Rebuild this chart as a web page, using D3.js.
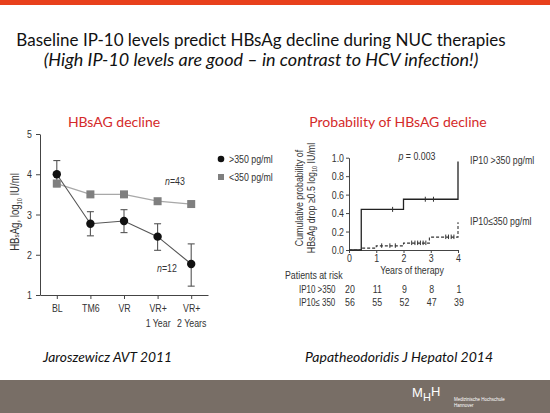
<!DOCTYPE html>
<html><head><meta charset="utf-8">
<script src="https://cdn.jsdelivr.net/npm/d3@7"></script>
<style>
html,body{margin:0;padding:0;background:#fff;}
svg{display:block;}
.chart text{font-family:"Liberation Sans",Arial,sans-serif;fill:#333;}
</style></head>
<body>
<svg id="s" width="550" height="413"></svg>
<script>
// ---------- data ----------
const categories = ["BL", "TM6", "VR", "VR+", "VR+"];
const categorySub = ["", "", "", "1 Year", "2 Years"];
const highIP10 = [4.0, 2.77, 2.84, 2.45, 1.77];
const highLower = [3.69, 2.47, 2.55, 2.11, 1.22];
const highUpper = [4.34, 3.07, 3.12, 2.77, 2.27];
const lowIP10 = [3.77, 3.5, 3.5, 3.33, 3.26];
const leftYTicks = [1, 2, 3, 4, 5];
const legendLabels = [">350 pg/ml", "<350 pg/ml"];

const kmYears = [0, 1, 2, 3, 4];
const kmProbTicks = [0, 0.2, 0.4, 0.6, 0.8, 1.0];
const kmHighTimes = [0, 0.45, 2, 4];
const kmHighProb = [0, 0.44, 0.55, 0.96];
const kmHighCensorTimes = [1.6, 2.8, 3.1];
const kmHighCensorProb = [0.44, 0.55, 0.55];
const kmLowTimes = [0, 0.45, 1, 2, 2.95, 4];
const kmLowProb = [0, 0.02, 0.045, 0.075, 0.14, 0.30];
const kmLowCensorTimes = [1.2, 1.5, 1.7, 2.3, 2.42, 2.52, 2.62, 2.72, 2.82, 3.55, 3.65, 3.75, 3.85];
const kmLowCensorProb = [0.045, 0.045, 0.045, 0.075, 0.075, 0.075, 0.075, 0.075, 0.075, 0.14, 0.14, 0.14, 0.14];
const riskLabels = ["IP10 >350", "IP10\u2264 350"];
const riskHigh = [20, 11, 9, 8, 1];
const riskLow = [56, 55, 52, 47, 39];

// ---------- page ----------
const svg = d3.select("#s");
svg.append("rect").attr("x",0).attr("y",0).attr("width",550).attr("height",5).attr("fill","#e8401c");
svg.append("text").attr("x",261).attr("y",46).attr("text-anchor","middle")
  .style("font-family","Lato, 'Open Sans', sans-serif").style("font-size","17px").attr("fill","#111")
  .text("Baseline IP-10 levels predict HBsAg decline during NUC therapies");
svg.append("text").attr("x",261).attr("y",66).attr("text-anchor","middle")
  .style("font-family","Lato, 'Open Sans', sans-serif").style("font-size","18px").style("font-style","italic").attr("fill","#111")
  .text("(High IP-10 levels are good \u2013 in contrast to HCV infection!)");

const red = "#d42a2a";
svg.append("text").attr("x",114).attr("y",127).attr("text-anchor","middle")
  .style("font-family","Lato, 'Open Sans', sans-serif").style("font-size","14px").attr("fill",red).text("HBsAG decline");
svg.append("text").attr("x",398).attr("y",127).attr("text-anchor","middle")
  .style("font-family","Lato, 'Open Sans', sans-serif").style("font-size","14px").attr("fill",red).text("Probability of HBsAG decline");

// ---------- left chart ----------
const L = svg.append("g").attr("class","chart");
const x = d3.scalePoint().domain(d3.range(categories.length)).range([40,208]).padding(0.5);
const y = d3.scaleLinear().domain([1,5]).range([295,134]);

const ya = L.append("g").attr("transform","translate(40,0)")
  .call(d3.axisLeft(y).tickValues(leftYTicks).tickFormat(d3.format("d")).tickSize(4).tickSizeOuter(0).tickPadding(4));
const xa = L.append("g").attr("transform","translate(0,295)")
  .call(d3.axisBottom(x).tickSize(4).tickSizeOuter(0).tickFormat(()=>""));
[ya,xa].forEach(a=>{a.selectAll("path,line").attr("stroke","#444");a.selectAll("text").style("font-size","11px").attr("fill","#333");});
xa.selectAll(".tick").each(function(d){
  const t = d3.select(this);
  t.append("text").attr("y",17).attr("text-anchor","middle").style("font-size","11px").attr("fill","#333").text(categories[d]);
  if (categorySub[d]) t.append("text").attr("y",32).attr("text-anchor","middle").style("font-size","11px").attr("fill","#333").text(categorySub[d]);
});

// y label
const yl = L.append("text").attr("transform","translate(19,212) rotate(-90)").attr("text-anchor","middle").style("font-size","12px").attr("fill","#333");
yl.append("tspan").text("HB");
yl.append("tspan").style("font-size","8px").text("s");
yl.append("tspan").text("Ag, log");
yl.append("tspan").style("font-size","7px").attr("dy",3).text("10");
yl.append("tspan").attr("dy",-3).text(" IU/ml");

// lines
const idx = d3.range(categories.length);
L.append("path").attr("d", d3.line().x(i=>x(i)).y(i=>y(lowIP10[i]))(idx))
  .attr("fill","none").attr("stroke","#a8a8a8").attr("stroke-width",1.3);
L.append("path").attr("d", d3.line().x(i=>x(i)).y(i=>y(highIP10[i]))(idx))
  .attr("fill","none").attr("stroke","#555").attr("stroke-width",1.1);
// error bars
const eb = L.append("g").attr("stroke","#555").attr("stroke-width",1.1);
idx.forEach(i=>{
  eb.append("line").attr("x1",x(i)).attr("x2",x(i)).attr("y1",y(highLower[i])).attr("y2",y(highUpper[i]));
  eb.append("line").attr("x1",x(i)-3.5).attr("x2",x(i)+3.5).attr("y1",y(highLower[i])).attr("y2",y(highLower[i]));
  eb.append("line").attr("x1",x(i)-3.5).attr("x2",x(i)+3.5).attr("y1",y(highUpper[i])).attr("y2",y(highUpper[i]));
});
// squares
L.selectAll("rect.sq").data(idx).enter().append("rect").attr("class","sq")
  .attr("x",i=>x(i)-4).attr("y",i=>y(lowIP10[i])-4).attr("width",8).attr("height",8).attr("fill","#7f7f7f");
// circles
L.selectAll("circle.c").data(idx).enter().append("circle").attr("class","c")
  .attr("cx",i=>x(i)).attr("cy",i=>y(highIP10[i])).attr("r",4.2).attr("fill","#111");

// legend
L.append("circle").attr("cx",221).attr("cy",159).attr("r",3.3).attr("fill","#111");
L.append("rect").attr("x",218).attr("y",174).attr("width",6).attr("height",6).attr("fill","#7f7f7f");
L.append("text").attr("x",229).attr("y",163).style("font-size","11px").text(legendLabels[0]);
L.append("text").attr("x",229).attr("y",181).style("font-size","11px").text(legendLabels[1]);

// n labels
function nLabel(px,py,n){
  const t = L.append("text").attr("x",px).attr("y",py).attr("text-anchor","middle").style("font-size","11px");
  t.append("tspan").style("font-style","italic").text("n");
  t.append("tspan").text("="+n);
}
nLabel(175,185,43);
nLabel(167,272,12);

// ---------- right chart ----------
const R = svg.append("g").attr("class","chart");
const xk = d3.scaleLinear().domain([0,4]).range([349,458]);
const yk = d3.scaleLinear().domain([0,1]).range([250,157.7]);

const rya = R.append("g").attr("transform","translate(349,0)")
  .call(d3.axisLeft(yk).tickValues(kmProbTicks).tickFormat(d3.format(".1f")).tickSize(3).tickSizeOuter(0).tickPadding(2));
const rxa = R.append("g").attr("transform","translate(0,250)")
  .call(d3.axisBottom(xk).tickValues(kmYears).tickFormat(d3.format("d")).tickSize(3).tickSizeOuter(0).tickPadding(1));
[rya,rxa].forEach(a=>{a.selectAll("path,line").attr("stroke","#444");a.selectAll("text").style("font-size","11px").attr("fill","#555");});

const ryl = R.append("text").attr("transform","translate(0,198) rotate(-90)").attr("text-anchor","middle").style("font-size","11px").attr("fill","#444");
ryl.append("tspan").attr("x",0).attr("y",303).text("Cumulative probability of");
const l2 = ryl.append("tspan").attr("x",0).attr("y",315);
l2.append("tspan").text("HBsAg drop \u22650.5 log");
l2.append("tspan").style("font-size","7px").attr("dy",2).text("10");
l2.append("tspan").attr("dy",-2).text(" IU/ml");

R.append("text").attr("x",412).attr("y",274).attr("text-anchor","middle").style("font-size","11px").attr("fill","#444").text("Years of therapy");

const step = d3.line().curve(d3.curveStepAfter);
R.append("path").attr("d", step(kmHighTimes.map((t,i)=>[xk(t),yk(kmHighProb[i])])))
  .attr("fill","none").attr("stroke","#222").attr("stroke-width",1.3);
R.append("path").attr("d", step(kmLowTimes.map((t,i)=>[xk(t),yk(kmLowProb[i])])))
  .attr("fill","none").attr("stroke","#333").attr("stroke-width",1.1).attr("stroke-dasharray","3,2");
kmHighCensorTimes.forEach((t,i)=>{
  R.append("line").attr("x1",xk(t)).attr("x2",xk(t)).attr("y1",yk(kmHighCensorProb[i])-2.5).attr("y2",yk(kmHighCensorProb[i])+2.5).attr("stroke","#333");
});
kmLowCensorTimes.forEach((t,i)=>{
  R.append("line").attr("x1",xk(t)).attr("x2",xk(t)).attr("y1",yk(kmLowCensorProb[i])-2.5).attr("y2",yk(kmLowCensorProb[i])+2).attr("stroke","#333");
});

const pt = R.append("text").attr("x",417).attr("y",160).attr("text-anchor","middle").style("font-size","11px").attr("fill","#444");
pt.append("tspan").style("font-style","italic").text("p");
pt.append("tspan").text(" = 0.003");
R.append("text").attr("x",470).attr("y",164).style("font-size","11px").attr("fill","#444").text("IP10 >350 pg/ml");
R.append("text").attr("x",470).attr("y",225).style("font-size","11px").attr("fill","#444").text("IP10\u2264350 pg/ml");

R.append("text").attr("x",285).attr("y",279).style("font-size","11px").attr("fill","#444").text("Patients at risk");
R.append("text").attr("class","rl").attr("x",299).attr("y",293).style("font-size","10.5px").attr("fill","#444").text(riskLabels[0]);
R.append("text").attr("class","rl").attr("x",299).attr("y",306).style("font-size","10.5px").attr("fill","#444").text(riskLabels[1]);
kmYears.forEach((t,i)=>{
  R.append("text").attr("x",xk(t)+1).attr("y",293).attr("text-anchor","middle").style("font-size","11px").attr("fill","#444").text(riskHigh[i]);
  R.append("text").attr("x",xk(t)+1).attr("y",306).attr("text-anchor","middle").style("font-size","11px").attr("fill","#444").text(riskLow[i]);
});

// simulate a narrow (condensed) face for chart texts: horizontal scale about each text's anchor
svg.selectAll(".chart text").each(function(){
  const f = this.classList.contains("rl") ? 0.76 : 0.8;
  const ax = +(this.getAttribute("x") || 0);
  const t0 = this.getAttribute("transform") || "";
  this.setAttribute("transform", `${t0} translate(${ax},0) scale(${f},1) translate(${-ax},0)`.trim());
});

// ---------- citations & footer ----------
svg.append("text").attr("x",43).attr("y",362).style("font-family","Lato, 'Open Sans', sans-serif").style("font-size","13.8px").style("font-style","italic").attr("fill","#111").text("Jaroszewicz AVT 2011");
svg.append("text").attr("x",305).attr("y",362).style("font-family","Lato, 'Open Sans', sans-serif").style("font-size","14px").style("font-style","italic").attr("fill","#111").text("Papatheodoridis J Hepatol 2014");

svg.append("rect").attr("x",0).attr("y",380).attr("width",550).attr("height",33).attr("fill","#786e66");
const logo = svg.append("g").style("font-family","'Liberation Sans',Arial,sans-serif").attr("fill","#fff");
logo.append("text").attr("x",412).attr("y",397).style("font-size","13px").text("M");
logo.append("text").attr("x",423).attr("y",401).style("font-size","11px").text("H");
logo.append("text").attr("x",431).attr("y",396).style("font-size","13px").text("H");
logo.append("text").attr("x",454).attr("y",401).style("font-size","4.5px").text("Medizinische Hochschule");
logo.append("text").attr("x",454).attr("y",407).style("font-size","4.5px").text("Hannover");
</script>
</body></html>
